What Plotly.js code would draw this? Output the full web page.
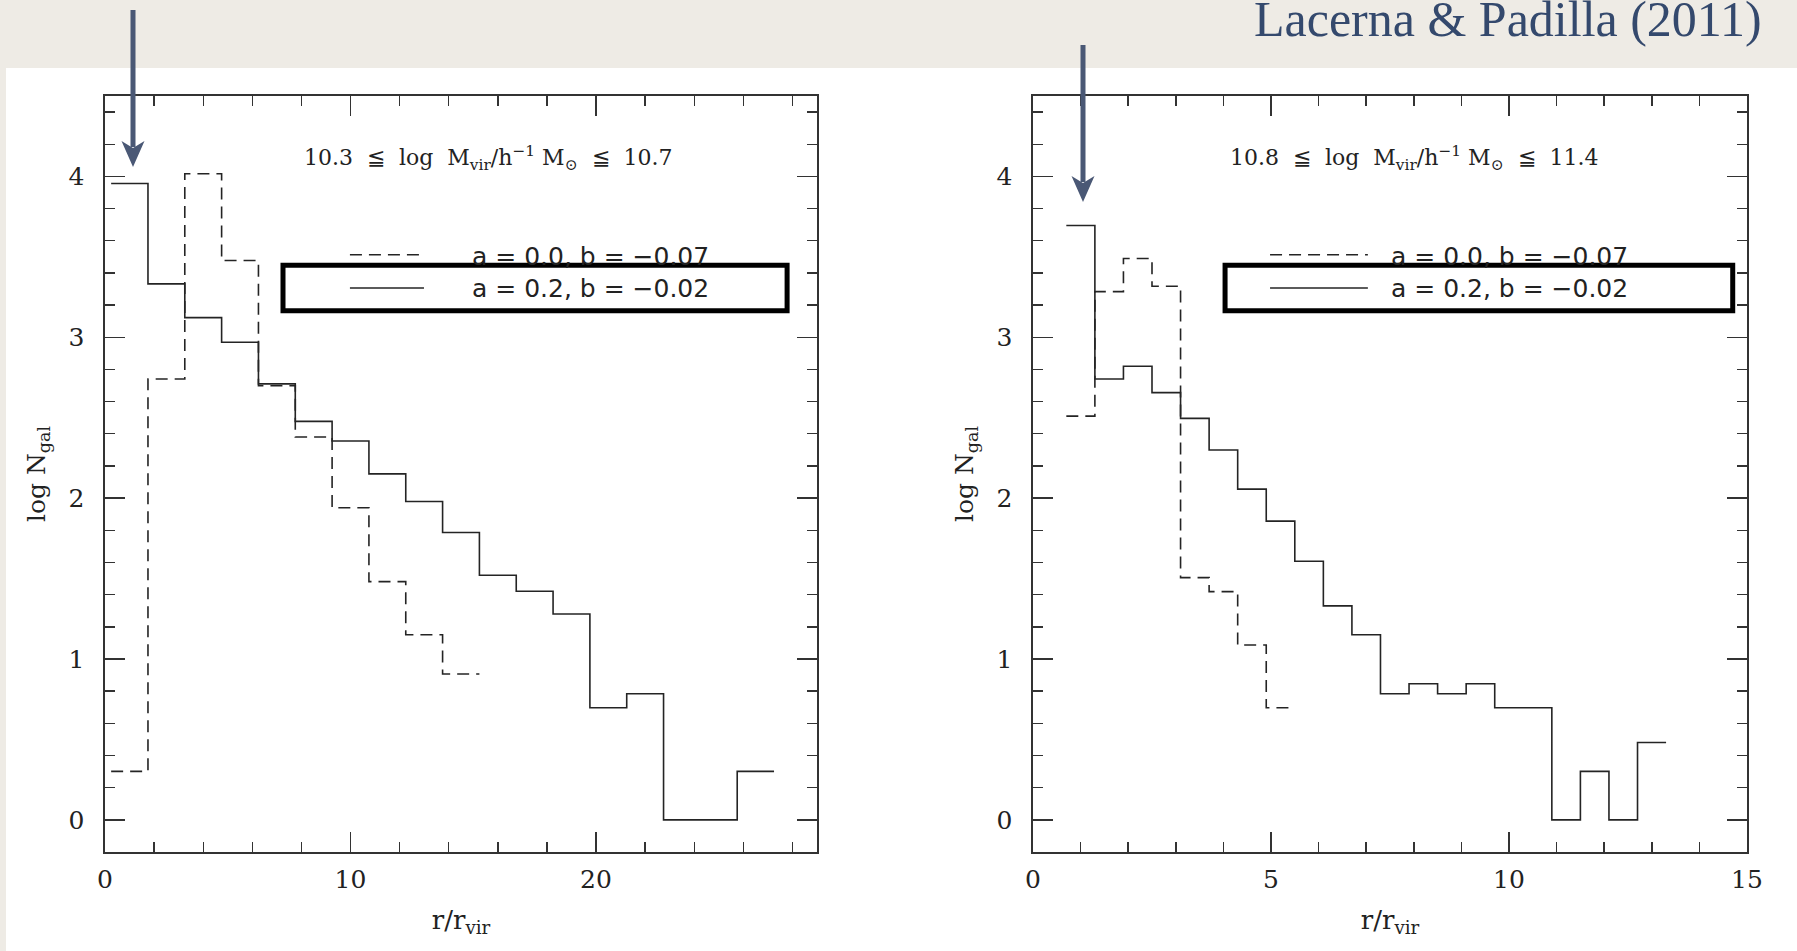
<!DOCTYPE html>
<html>
<head>
<meta charset="utf-8">
<script src="https://cdn.plot.ly/plotly-3.0.1.min.js"></script>
<style>
  html, body { margin: 0; padding: 0; background: #eeebe5; }
  #chart { width: 1797px; height: 951px; }
</style>
</head>
<body>
<div id="chart"></div>
<script>
// ---------------- DATA ----------------
// Left panel: 10.3 <= log Mvir <= 10.7, bin edges in r/rvir
const leftEdges = [0.25, 1.75, 3.25, 4.75, 6.25, 7.75, 9.25, 10.75, 12.25, 13.75,
                   15.25, 16.75, 18.25, 19.75, 21.25, 22.75, 24.25, 25.75, 27.25];
// a = 0.2, b = -0.02 (solid)
const leftSolid = [3.956, 3.332, 3.122, 2.969, 2.710, 2.477, 2.355, 2.151, 1.979,
                   1.786, 1.521, 1.421, 1.280, 0.697, 0.784, 0.0, 0.0, 0.301];
// a = 0.0, b = -0.07 (dashed)
const leftDashed = [0.301, 2.741, 4.017, 3.477, 2.699, 2.380, 1.940, 1.481, 1.151, 0.907];

// Right panel: 10.8 <= log Mvir <= 11.4
const rightEdges = [0.7, 1.3, 1.9, 2.5, 3.1, 3.7, 4.3, 4.9, 5.5, 6.1, 6.7,
                    7.3, 7.9, 8.5, 9.1, 9.7, 10.3, 10.9, 11.5, 12.1, 12.7, 13.3];
const rightSolid = [3.695, 2.741, 2.820, 2.656, 2.496, 2.299, 2.056, 1.857, 1.608,
                    1.330, 1.151, 0.784, 0.846, 0.784, 0.846, 0.697, 0.697, 0.0,
                    0.301, 0.0, 0.481];
const rightDashed = [2.510, 3.284, 3.490, 3.317, 1.506, 1.419, 1.087, 0.697];

const seriesNames = ['a = 0.0, b = \u22120.07', 'a = 0.2, b = \u22120.02'];
const panelLabels = [
  '10.3  \u2266  log  M<sub>vir</sub>/h<sup>\u22121</sup> M<sub>\u2299</sub>  \u2266  10.7',
  '10.8  \u2266  log  M<sub>vir</sub>/h<sup>\u22121</sup> M<sub>\u2299</sub>  \u2266  11.4'
];
const leftXTicks = [0, 10, 20];
const rightXTicks = [0, 5, 10, 15];
const yTicks = [0, 1, 2, 3, 4];
const sourceText = 'Lacerna &amp; Padilla (2011)';

// ---------------- HELPERS ----------------
const W = 1797, H = 951;
const px = v => v / W;
const py = v => 1 - v / H;

function stepTrace(edges, vals, xa, ya, dashed) {
  const x = edges.slice(0, vals.length + 1);
  const y = vals.concat([vals[vals.length - 1]]);
  return {
    type: 'scatter', mode: 'lines', x: x, y: y, xaxis: xa, yaxis: ya,
    line: { shape: 'hv', color: '#242424', width: 1.6, dash: dashed ? '12px,7px' : 'solid' },
    showlegend: false, hoverinfo: 'skip'
  };
}

const traces = [
  stepTrace(leftEdges, leftDashed, 'x', 'y', true),
  stepTrace(leftEdges, leftSolid, 'x', 'y', false),
  stepTrace(rightEdges, rightDashed, 'x2', 'y2', true),
  stepTrace(rightEdges, rightSolid, 'x2', 'y2', false)
];

const tickFont = { family: 'DejaVu Serif', size: 25, color: '#222' };
const titleFont = { family: 'DejaVu Serif', size: 26, color: '#222' };

function xAxis(domain, range, minorDtick, ticks, anchor) {
  return {
    domain: domain, range: range, anchor: anchor,
    showline: true, linecolor: '#333', linewidth: 1.6, mirror: 'allticks',
    ticks: 'inside', ticklen: 20, tickwidth: 1.4, tickcolor: '#333',
    tickmode: 'array', tickvals: ticks, ticktext: ticks.map(String),
    minor: { ticks: 'inside', ticklen: 10, tickwidth: 1.4, tickcolor: '#333', dtick: minorDtick, tick0: 0, showgrid: false },
    showgrid: false, zeroline: false, tickfont: tickFont, ticklabelstandoff: 4,
    title: { text: 'r/r<sub>vir</sub>', font: titleFont, standoff: 18 },
    fixedrange: true
  };
}
function yAxis(domain, anchor) {
  return {
    domain: domain, range: [-0.2, 4.5], anchor: anchor,
    showline: true, linecolor: '#333', linewidth: 1.6, mirror: 'allticks',
    ticks: 'inside', ticklen: 20, tickwidth: 1.4, tickcolor: '#333',
    tickmode: 'array', tickvals: yTicks, ticktext: yTicks.map(String),
    minor: { ticks: 'inside', ticklen: 10, tickwidth: 1.4, tickcolor: '#333', dtick: 0.2, tick0: 0, showgrid: false },
    showgrid: false, zeroline: false, tickfont: tickFont, ticklabelstandoff: 14,
    title: { text: 'log N<sub>gal</sub>', font: { family: 'DejaVu Serif', size: 25, color: '#222' }, standoff: 16 },
    fixedrange: true
  };
}

const yDom = [1 - 852 / H, 1 - 96 / H];
const layout = {
  width: W, height: H,
  margin: { l: 0, r: 0, t: 0, b: 0 },
  paper_bgcolor: '#eeebe5', plot_bgcolor: '#ffffff',
  xaxis: xAxis([px(105), px(817)], [0, 29], 2, leftXTicks, 'y'),
  yaxis: yAxis(yDom, 'x'),
  xaxis2: xAxis([px(1033), px(1747)], [0, 15], 1, rightXTicks, 'y2'),
  yaxis2: yAxis(yDom, 'x2'),
  shapes: [],
  annotations: []
};

// white slide area
layout.shapes.push({ type: 'rect', xref: 'paper', yref: 'paper', x0: px(6), x1: 1, y0: 0, y1: py(68),
  fillcolor: '#ffffff', line: { width: 0 }, layer: 'below' });

// legends + panel labels
const panels = [
  { xd: 'x domain', yd: 'y domain', label: 0.538, s0: 0.344, s1: 0.448, tx: 0.513, r0: 0.250, r1: 0.958 },
  { xd: 'x2 domain', yd: 'y2 domain', label: 0.534, s0: 0.332, s1: 0.469, tx: 0.499, r0: 0.269, r1: 0.980 }
];
panels.forEach((p, i) => {
  layout.annotations.push({ xref: p.xd, yref: p.yd, x: p.label, y: 0.918, xanchor: 'center', yanchor: 'middle',
    text: panelLabels[i], showarrow: false, font: { family: 'DejaVu Serif', size: 22, color: '#222' } });
  layout.shapes.push({ type: 'line', xref: p.xd, yref: p.yd, x0: p.s0, x1: p.s1, y0: 0.790, y1: 0.790,
    line: { color: '#242424', width: 1.6, dash: '12px,7px' } });
  layout.shapes.push({ type: 'line', xref: p.xd, yref: p.yd, x0: p.s0, x1: p.s1, y0: 0.746, y1: 0.746,
    line: { color: '#242424', width: 1.6 } });
  layout.annotations.push({ xref: p.xd, yref: p.yd, x: p.tx, y: 0.788, xanchor: 'left', yanchor: 'middle',
    text: seriesNames[0], showarrow: false, font: { family: 'DejaVu Sans', size: 25, color: '#222' } });
  layout.annotations.push({ xref: p.xd, yref: p.yd, x: p.tx, y: 0.745, xanchor: 'left', yanchor: 'middle',
    text: seriesNames[1], showarrow: false, font: { family: 'DejaVu Sans', size: 25, color: '#222' } });
  layout.shapes.push({ type: 'rect', xref: p.xd, yref: p.yd, x0: p.r0, x1: p.r1, y0: 0.716, y1: 0.776,
    line: { color: '#000', width: 5 }, fillcolor: 'rgba(0,0,0,0)', layer: 'above' });
});

// arrows (slide decoration)
const arrowColor = '#4a5875';
function arrow(x, yTop, yTip) {
  layout.shapes.push({ type: 'line', xref: 'paper', yref: 'paper', x0: px(x), x1: px(x), y0: py(yTop), y1: py(yTip - 20),
    line: { color: arrowColor, width: 5 } });
  const pts = [[x - 11.5, yTip - 26], [x, yTip], [x + 11.5, yTip - 26], [x, yTip - 19]];
  const path = 'M ' + pts.map(q => px(q[0]) + ',' + py(q[1])).join(' L ') + ' Z';
  layout.shapes.push({ type: 'path', xref: 'paper', yref: 'paper', path: path,
    fillcolor: arrowColor, line: { width: 0 } });
}
arrow(133, 10, 167);
arrow(1083, 45, 202);

// source text
layout.annotations.push({ xref: 'paper', yref: 'paper', x: px(1764), y: py(19), xanchor: 'right', yanchor: 'middle',
  text: sourceText, showarrow: false, font: { family: 'Liberation Serif', size: 50, color: '#34496d' } });

Plotly.newPlot('chart', traces, layout, { displayModeBar: false, staticPlot: true });
</script>
</body>
</html>
